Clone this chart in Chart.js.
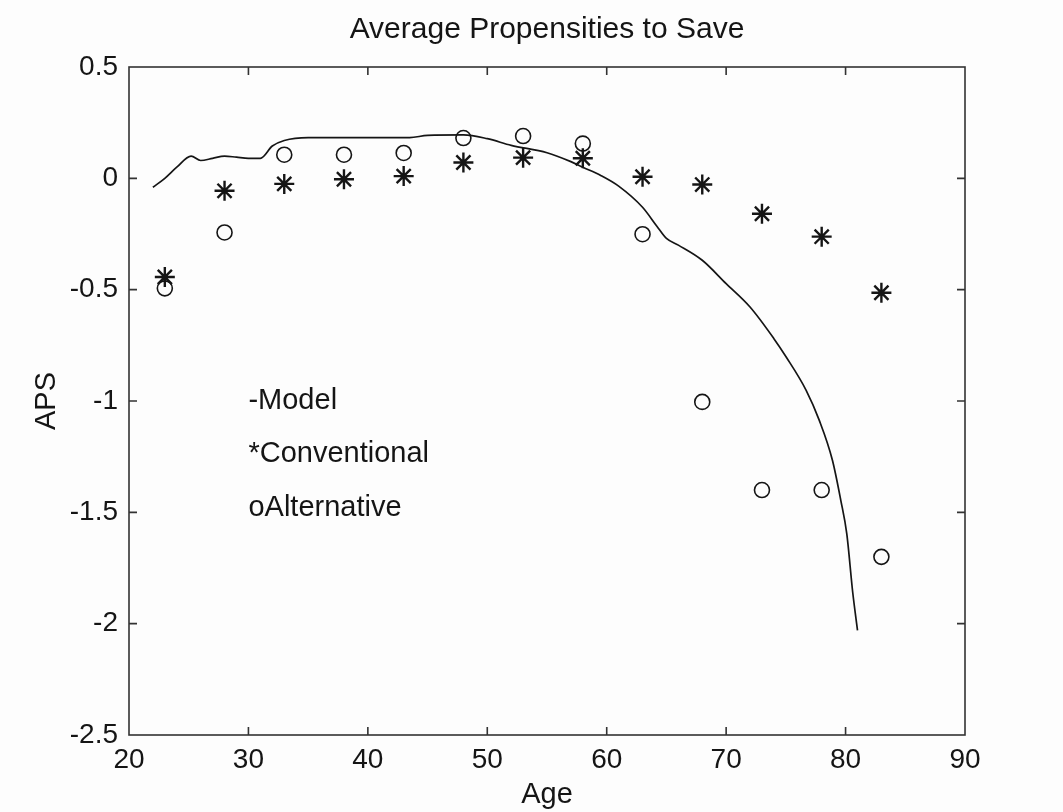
<!DOCTYPE html>
<html>
<head>
<meta charset="utf-8">
<script src="https://cdn.jsdelivr.net/npm/chart.js@4.4.1/dist/chart.umd.min.js"></script>
<style>
  html, body { margin: 0; padding: 0; background: #fdfdfd; }
  canvas { display: block; }
</style>
</head>
<body>
<canvas id="myChart" width="1063" height="812"></canvas>
<script>
// model path (solid line)
const modelAges = [22, 23, 24, 25.2, 26, 27, 28, 29, 30, 31, 32, 33, 35, 40, 43.5, 45, 48, 50, 52, 55, 57, 58, 59.5,
                   61, 63, 64.2, 65, 66, 68, 70, 72, 74, 75, 76.7, 77.8, 78.9, 79.6, 80.1, 80.6, 81]
const modelAps = [-0.04, 0.0, 0.05, 0.10, 0.08, 0.09, 0.10, 0.095, 0.09, 0.09, 0.145, 0.17, 0.183, 0.183, 0.183, 0.193,
                  0.195, 0.178, 0.148, 0.115, 0.075, 0.05, 0.013, -0.035, -0.13, -0.215, -0.27, -0.3, -0.368, -0.473,
                  -0.578, -0.72, -0.8, -0.952, -1.087, -1.266, -1.446, -1.596, -1.86, -2.03]

// five-year age groups
const groupAges = [23, 28, 33, 38, 43, 48, 53, 58, 63, 68, 73, 78, 83]
const conventionalAps = [-0.443, -0.056, -0.025, -0.004, 0.01, 0.071, 0.093, 0.09, 0.007, -0.028, -0.159, -0.262, -0.514]
const alternativeAps = [-0.494, -0.243, 0.106, 0.106, 0.114, 0.181, 0.19, 0.156, -0.251, -1.004, -1.40, -1.40, -1.70]

const xTicks = [20, 30, 40, 50, 60, 70, 80, 90]
const yTicks = [0.5, 0, -0.5, -1, -1.5, -2, -2.5]
const legendLines = ['-Model', '*Conventional', 'oAlternative']

const ink = '#151515'
const sans = '"Liberation Sans", Arial, Helvetica, sans-serif'

const pts = (xs, ys) => xs.map((x, i) => ({ x: x, y: ys[i] }))

// matlab style box with inward ticks, title and text legend
const matlabFrame = {
    id: 'matlabFrame',
    afterDraw(chart) {
        const { ctx, chartArea: a, scales } = chart
        const xs = scales.x, ys = scales.y
        const tl = 8
        ctx.save()
        ctx.strokeStyle = '#333'
        ctx.lineWidth = 1.6
        ctx.strokeRect(a.left, a.top, a.right - a.left, a.bottom - a.top)
        ctx.beginPath()
        xTicks.slice(1, -1).forEach(v => {
            const px = xs.getPixelForValue(v)
            ctx.moveTo(px, a.bottom); ctx.lineTo(px, a.bottom - tl)
            ctx.moveTo(px, a.top); ctx.lineTo(px, a.top + tl)
        })
        yTicks.slice(1, -1).forEach(v => {
            const py = ys.getPixelForValue(v)
            ctx.moveTo(a.left, py); ctx.lineTo(a.left + tl, py)
            ctx.moveTo(a.right, py); ctx.lineTo(a.right - tl, py)
        })
        ctx.stroke()

        ctx.fillStyle = ink
        ctx.font = '30px ' + sans
        ctx.textAlign = 'center'
        ctx.textBaseline = 'alphabetic'
        ctx.fillText('Average Propensities to Save', (a.left + a.right) / 2, 38)

        ctx.font = '29px ' + sans
        ctx.textAlign = 'left'
        ctx.textBaseline = 'middle'
        const lx = xs.getPixelForValue(30)
        legendLines.forEach((t, i) => {
            ctx.fillText(t, lx, ys.getPixelForValue(-1 - 0.24 * i))
        })
        ctx.restore()
    }
}

new Chart(document.getElementById('myChart').getContext('2d'), {
    type: 'scatter',
    data: {
        datasets: [{
            label: 'Model',
            data: pts(modelAges, modelAps),
            showLine: true,
            borderColor: ink,
            borderWidth: 1.7,
            pointRadius: 0,
            tension: 0.3,
            cubicInterpolationMode: 'monotone'
        }, {
            label: 'Conventional',
            data: pts(groupAges, conventionalAps),
            pointStyle: 'star',
            pointRadius: 10,
            borderColor: ink,
            borderWidth: 2.4,
            backgroundColor: ink
        }, {
            label: 'Alternative',
            data: pts(groupAges, alternativeAps),
            pointStyle: 'circle',
            pointRadius: 7.5,
            borderColor: ink,
            borderWidth: 1.6,
            backgroundColor: 'rgba(0,0,0,0)'
        }]
    },
    options: {
        responsive: false,
        animation: false,
        events: [],
        layout: { padding: { left: 0, right: 98, top: 67, bottom: 0 } },
        plugins: { legend: { display: false }, title: { display: false }, tooltip: { enabled: false } },
        scales: {
            x: {
                type: 'linear',
                min: 20,
                max: 90,
                afterBuildTicks: s => { s.ticks = xTicks.map(v => ({ value: v })) },
                afterFit: s => { s.height = 77 },
                grid: { display: false, drawTicks: false },
                border: { display: false },
                ticks: { color: ink, font: { family: sans, size: 28 }, padding: 8, maxRotation: 0, callback: v => String(v) },
                title: { display: true, text: 'Age', color: ink, font: { family: sans, size: 29 }, padding: { top: 0, bottom: 0 } }
            },
            y: {
                type: 'linear',
                min: -2.5,
                max: 0.5,
                afterBuildTicks: s => { s.ticks = yTicks.map(v => ({ value: v })) },
                afterFit: s => { s.width = 129 },
                grid: { display: false, drawTicks: false },
                border: { display: false },
                ticks: { color: ink, font: { family: sans, size: 28 }, padding: 11, callback: v => String(v) },
                title: { display: true, text: 'APS', color: ink, font: { family: sans, size: 29 }, padding: { top: 30, bottom: 0 } }
            }
        }
    },
    plugins: [matlabFrame]
})
</script>
</body>
</html>
